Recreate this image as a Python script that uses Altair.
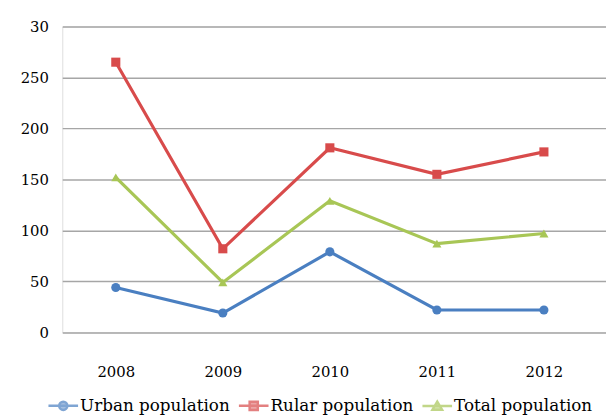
import altair as alt
import pandas as pd

years = [2008, 2009, 2010, 2011, 2012]
series = ["Urban population", "Rular population", "Total population"]
urban = [44, 19, 79, 22, 22]
rural = [265, 82, 181, 155, 177]
total = [152, 49, 129, 87, 97]
colors = ["#4A7FC1", "#D84B4B", "#A8C656"]
y_ticks = [0, 50, 100, 150, 200, 250, 300]

rows = []
for name, vals in zip(series, [urban, rural, total]):
    for yr, v in zip(years, vals):
        rows.append({"year": yr, "value": v, "series": name})
df = pd.DataFrame(rows)

FONT = "DejaVu Serif"

x = alt.X("year:Q", scale=alt.Scale(domain=[2007.5, 2012.58], nice=False, zero=False),
          axis=alt.Axis(values=years, format="d", title=None, grid=False, domain=False,
                        ticks=False, labelFont=FONT, labelFontSize=15, labelColor="#000",
                        labelPadding=33))
y = alt.Y("value:Q", scale=alt.Scale(domain=[0, 300], nice=False),
          axis=alt.Axis(values=y_ticks, title=None, domain=False, ticks=False,
                        labelExpr="datum.value == 300 ? '30' : datum.label",
                        labelFont=FONT, labelFontSize=15, labelColor="#000", labelPadding=14,
                        gridColor="#A6A6A6", gridWidth=1.5))

color = alt.Color("series:N", scale=alt.Scale(domain=series, range=colors), legend=None)

base = alt.Chart(df)
lines = base.mark_line(strokeWidth=3.2).encode(x=x, y=y, color=color, detail="series:N")
points = base.mark_point(filled=True, size=85, opacity=1).encode(
    x=x, y=y, color=color,
    shape=alt.Shape("series:N", scale=alt.Scale(domain=series, range=["circle", "square", "triangle-up"]),
                    legend=None))

legend_paths = [
    "M-2,0L2,0M0.55,0A0.55,0.55 0 1,1 -0.55,0A0.55,0.55 0 1,1 0.55,0Z",
    "M-2,0L2,0M-0.55,-0.55L0.55,-0.55L0.55,0.55L-0.55,0.55Z",
    "M-2,0L2,0M0,-0.6L0.65,0.5L-0.65,0.5Z",
]
leg_scale = alt.Scale(domain=series, range=colors)
leg = base.transform_filter("datum.value < 0").mark_point(filled=True, strokeWidth=2.5).encode(
    x=x, y=y,
    fill=alt.Fill("series:N", scale=leg_scale, title=None,
                  legend=alt.Legend(orient="none", legendX=-8, legendY=375, direction="horizontal",
                                    labelFont=FONT, labelFontSize=17, labelColor="#000",
                                    labelLimit=0,
                                    symbolSize=225, symbolStrokeWidth=2.5, columnPadding=4,
                                    labelOffset=8, title=None)),
    stroke=alt.Stroke("series:N", scale=leg_scale, title=None),
    shape=alt.Shape("series:N", scale=alt.Scale(domain=series, range=legend_paths), title=None),
)

chart = alt.layer(lines, points, leg).resolve_scale(
    shape="independent", color="independent", fill="independent", stroke="independent"
).properties(
    width=551, height=310,
    autosize=alt.AutoSizeParams(type="none"),
    padding={"left": 55, "top": 16, "right": 0, "bottom": 83},
).configure_view(strokeWidth=0, stroke="transparent", fill="white").configure_axis(
    domain=False
).configure(background="white")

chart.save("out.html", embed_options={"renderer": "svg", "actions": False})
